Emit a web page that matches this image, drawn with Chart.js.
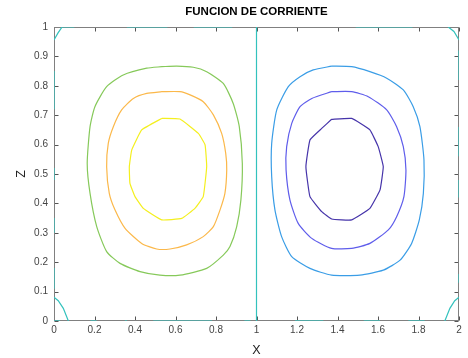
<!DOCTYPE html>
<html lang="es">
<head>
  <meta charset="UTF-8" />
  <title>Funcion de corriente</title>
  <script src="https://cdn.jsdelivr.net/npm/chart.js"></script>
  <style>
    body { margin: 0; background: #ffffff; }
    canvas { display: block; }
  </style>
</head>
<body>
  <canvas id="psiChart" width="468" height="358"></canvas>

  <script>
    // Axis ticks
    const xTicks = [0, 0.2, 0.4, 0.6, 0.8, 1, 1.2, 1.4, 1.6, 1.8, 2];
    const zTicks = [0, 0.1, 0.2, 0.3, 0.4, 0.5, 0.6, 0.7, 0.8, 0.9, 1];

    // Left cell (positive psi): outer, middle, inner contours
    const leftOuterX = [0.532, 0.606, 0.688, 0.754, 0.836, 0.885, 0.915, 0.930, 0.923, 0.902, 0.869, 0.836, 0.754, 0.622, 0.523, 0.425, 0.326, 0.260, 0.211, 0.178, 0.164, 0.178, 0.202, 0.260, 0.342, 0.458];
    const leftOuterZ = [0.865, 0.867, 0.863, 0.848, 0.808, 0.740, 0.661, 0.536, 0.412, 0.320, 0.253, 0.224, 0.179, 0.156, 0.156, 0.168, 0.196, 0.236, 0.321, 0.434, 0.536, 0.661, 0.729, 0.797, 0.837, 0.860];
    const leftMidX = [0.532, 0.622, 0.672, 0.737, 0.787, 0.828, 0.848, 0.853, 0.844, 0.820, 0.787, 0.737, 0.655, 0.573, 0.507, 0.433, 0.351, 0.301, 0.273, 0.260, 0.268, 0.293, 0.334, 0.392, 0.458];
    const leftMidZ = [0.780, 0.780, 0.769, 0.746, 0.701, 0.638, 0.570, 0.514, 0.434, 0.378, 0.321, 0.287, 0.259, 0.245, 0.245, 0.264, 0.315, 0.378, 0.434, 0.525, 0.604, 0.661, 0.718, 0.757, 0.774];
    const leftInnerX = [0.532, 0.622, 0.713, 0.746, 0.754, 0.737, 0.696, 0.631, 0.532, 0.441, 0.400, 0.375, 0.372, 0.384, 0.433];
    const leftInnerZ = [0.689, 0.687, 0.638, 0.599, 0.525, 0.423, 0.383, 0.349, 0.344, 0.383, 0.423, 0.468, 0.525, 0.582, 0.650];

    // Right cell (negative psi)
    const rightOuterX = [1.371, 1.470, 1.560, 1.643, 1.725, 1.774, 1.807, 1.827, 1.824, 1.804, 1.766, 1.709, 1.626, 1.511, 1.371, 1.264, 1.174, 1.124, 1.091, 1.075, 1.075, 1.100, 1.157, 1.215, 1.280];
    const rightOuterZ = [0.867, 0.865, 0.848, 0.826, 0.786, 0.729, 0.661, 0.548, 0.434, 0.344, 0.264, 0.207, 0.173, 0.156, 0.156, 0.179, 0.219, 0.287, 0.378, 0.491, 0.604, 0.718, 0.797, 0.831, 0.854];
    const rightMidX = [1.371, 1.470, 1.552, 1.643, 1.692, 1.725, 1.738, 1.728, 1.692, 1.651, 1.560, 1.470, 1.371, 1.273, 1.206, 1.165, 1.146, 1.149, 1.174, 1.215, 1.273];
    const rightMidZ = [0.780, 0.780, 0.763, 0.718, 0.661, 0.593, 0.514, 0.423, 0.355, 0.310, 0.264, 0.247, 0.247, 0.281, 0.332, 0.412, 0.514, 0.593, 0.672, 0.729, 0.757];
    const rightInnerX = [1.371, 1.470, 1.560, 1.601, 1.626, 1.610, 1.560, 1.470, 1.371, 1.322, 1.264, 1.244, 1.264, 1.322];
    const rightInnerZ = [0.686, 0.689, 0.650, 0.593, 0.525, 0.446, 0.383, 0.344, 0.347, 0.372, 0.423, 0.525, 0.616, 0.655];

    // Zero level: the dividing line x = 1 plus small pieces along the walls
    const zeroPieces = [
      [[1, 0], [1, 1]],
      [[0, 0.956], [0.02, 0.98], [0.04, 1], [0.1, 1]],
      [[0.36, 1], [0.56, 1]],
      [[0.69, 1], [0.88, 1]],
      [[1.49, 1], [1.77, 1]],
      [[1.947, 1], [1.975, 0.985], [2, 0.956]],
      [[0, 0.081], [0.021, 0.069], [0.046, 0.043], [0.071, 0]],
      [[1.93, 0], [1.955, 0.043], [1.979, 0.069], [2, 0.081]],
      [[0, 0], [0.03, 0]],
      [[0.18, 0], [0.21, 0]],
      [[0.35, 0], [0.36, 0]],
      [[0.49, 0], [0.78, 0]],
      [[0.94, 0], [0.97, 0]],
      [[1.19, 0], [1.33, 0]],
      [[1.53, 0], [1.61, 0]],
      [[1.75, 0], [1.83, 0]],
      [[0, 0.72], [0, 0.85]],
      [[0, 0.48], [0, 0.52]],
      [[0, 0.30], [0, 0.35]],
      [[0, 0.11], [0, 0.18]],
      [[2, 0.82], [2, 0.92]],
      [[2, 0.56], [2, 0.66]],
      [[2, 0.42], [2, 0.48]],
      [[2, 0.13], [2, 0.16]]
    ];

    // parula-like level colours
    const colYellow = '#f4ef1f';
    const colOrange = '#fbb84a';
    const colGreen = '#86c95a';
    const colZero = '#33c2bd';
    const colBlue = '#3a9de6';
    const colViolet = '#5f5deb';
    const colPurple = '#4634aa';

    function closedLoop(xs, zs) {
      const pts = xs.map((x, i) => ({ x: x, y: zs[i] }));
      pts.push({ x: xs[0], y: zs[0] });
      return pts;
    }

    function contour(pts, color, tension) {
      return {
        data: pts,
        showLine: true,
        borderColor: color,
        borderWidth: 1.2,
        pointRadius: 0,
        fill: false,
        tension: tension
      };
    }

    const datasets = [
      contour(closedLoop(leftOuterX, leftOuterZ), colGreen, 0.2),
      contour(closedLoop(leftMidX, leftMidZ), colOrange, 0.2),
      contour(closedLoop(leftInnerX, leftInnerZ), colYellow, 0.1),
      contour(closedLoop(rightOuterX, rightOuterZ), colBlue, 0.2),
      contour(closedLoop(rightMidX, rightMidZ), colViolet, 0.2),
      contour(closedLoop(rightInnerX, rightInnerZ), colPurple, 0.1)
    ];
    zeroPieces.forEach(piece => {
      datasets.push(contour(piece.map(p => ({ x: p[0], y: p[1] })), colZero, 0));
    });

    // box around the axes with inward tick marks on all four sides
    const axesBox = {
      id: 'axesBox',
      beforeDatasetsDraw(chart) {
        const { ctx, chartArea: a, scales } = chart;
        const L = Math.round(a.left) + 0.5, R = Math.round(a.right) - 0.5;
        const T = Math.round(a.top) + 0.5, B = Math.round(a.bottom) - 0.5;
        ctx.save();
        ctx.lineWidth = 1;
        ctx.strokeStyle = '#555555';
        ctx.beginPath();
        xTicks.forEach(v => {
          const px = Math.round(scales.x.getPixelForValue(v)) + 0.5;
          ctx.moveTo(px, B); ctx.lineTo(px, B - 4);
          ctx.moveTo(px, T); ctx.lineTo(px, T + 4);
        });
        zTicks.forEach(v => {
          const py = Math.round(scales.y.getPixelForValue(v)) + 0.5;
          ctx.moveTo(L, py); ctx.lineTo(L + 4, py);
          ctx.moveTo(R, py); ctx.lineTo(R - 4, py);
        });
        ctx.stroke();
        ctx.strokeStyle = '#808080';
        ctx.strokeRect(L, T, R - L, B - T);
        ctx.restore();
      }
    };

    const tickFont = { family: 'Liberation Sans, Arial, sans-serif', size: 10 };

    new Chart(document.getElementById('psiChart').getContext('2d'), {
      type: 'scatter',
      data: { datasets: datasets },
      options: {
        responsive: false,
        animation: false,
        layout: { padding: { left: 0, right: 9, top: 0, bottom: 0 } },
        plugins: {
          legend: { display: false },
          tooltip: { enabled: false },
          title: {
            display: true,
            text: 'FUNCION DE CORRIENTE',
            fullSize: false,
            color: '#000000',
            font: { family: 'Liberation Sans, Arial, sans-serif', size: 11.5, weight: 'bold' },
            padding: { top: 5, bottom: 8.2 }
          }
        },
        scales: {
          x: {
            type: 'linear',
            min: 0,
            max: 2,
            afterBuildTicks: s => { s.ticks = xTicks.map(v => ({ value: v })); },
            afterFit: s => { s.height = 37; },
            grid: { display: false, drawTicks: false },
            border: { display: false },
            ticks: { font: tickFont, color: '#444444', padding: 3, maxRotation: 0, callback: v => String(v) },
            title: {
              display: true,
              text: 'X',
              color: '#222222',
              font: { family: 'Liberation Sans, Arial, sans-serif', size: 12.5 },
              padding: { top: 0, bottom: 0 }
            }
          },
          y: {
            type: 'linear',
            min: 0,
            max: 1,
            afterBuildTicks: s => { s.ticks = zTicks.map(v => ({ value: v })); },
            afterFit: s => { s.width = 54; },
            grid: { display: false, drawTicks: false },
            border: { display: false },
            ticks: { font: tickFont, color: '#444444', padding: 6, callback: v => String(v) },
            title: {
              display: true,
              text: 'Z',
              color: '#222222',
              font: { family: 'Liberation Sans, Arial, sans-serif', size: 12.5 },
              padding: { top: 14, bottom: 0 }
            }
          }
        }
      },
      plugins: [axesBox]
    });
  </script>
</body>
</html>
